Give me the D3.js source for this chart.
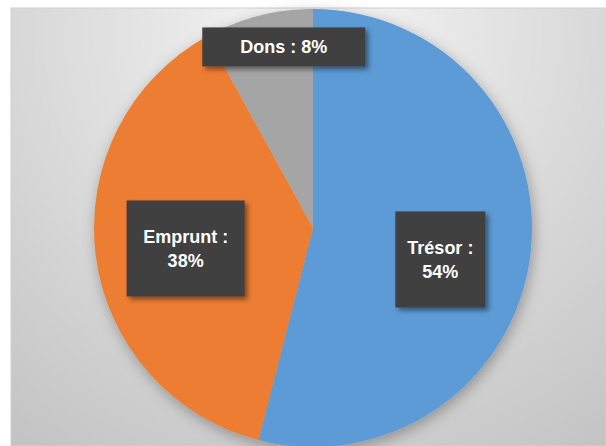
<!DOCTYPE html>
<html><head><meta charset="utf-8">
<script src="https://cdn.jsdelivr.net/npm/d3@7"></script>
<style>html,body{margin:0;padding:0;background:#fff;}svg{display:block;}</style>
</head><body>
<svg id="c" width="606" height="446"></svg>
<script>
const categories = ["Trésor", "Emprunt", "Dons"];
const values = [54, 38, 8];
const labels = ["Trésor :|54%", "Emprunt :|38%", "Dons : 8%"];
const colors = ["#5b9bd5", "#ed7d31", "#a5a5a5"];

const W = 606, H = 446;
const svg = d3.select("#c");
const defs = svg.append("defs");

const bg = defs.append("radialGradient").attr("id","bg")
  .attr("gradientUnits","userSpaceOnUse")
  .attr("cx",313).attr("cy",30).attr("r",520);
bg.append("stop").attr("offset","0%").attr("stop-color","#f6f6f6");
bg.append("stop").attr("offset","45%").attr("stop-color","#dedede");
bg.append("stop").attr("offset","100%").attr("stop-color","#c2c2c2");

const sh = defs.append("filter").attr("id","pieShadow").attr("x","-20%").attr("y","-20%").attr("width","140%").attr("height","140%");
sh.append("feDropShadow").attr("dx",2).attr("dy",4).attr("stdDeviation",7).attr("flood-color","#000").attr("flood-opacity",0.3);
const bsh = defs.append("filter").attr("id","boxShadow").attr("x","-20%").attr("y","-20%").attr("width","150%").attr("height","150%");
bsh.append("feDropShadow").attr("dx",3).attr("dy",3).attr("stdDeviation",2.5).attr("flood-color","#000").attr("flood-opacity",0.45);

svg.append("rect").attr("x",11).attr("y",8).attr("width",W-11).attr("height",H-8)
  .attr("fill","url(#bg)").attr("stroke","#d0d0d0").attr("stroke-width",1);

const cx = 313, cy = 228, R = 219;
const pie = d3.pie().sort(null).value(d => d)(values);
const arc = d3.arc().innerRadius(0).outerRadius(R);
const g = svg.append("g").attr("transform",`translate(${cx},${cy})`);
g.append("g").attr("filter","url(#pieShadow)")
  .selectAll("path").data(pie).join("path")
  .attr("d", arc).attr("fill",(d,i)=>colors[i]);

// label layout: radius factor, extra offsets, box size
const layout = [
  {rf:0.6, dx:-3, dy:15, w:90, h:96},
  {rf:0.6, dx:3, dy:4, w:118, h:96},
  {rf:0.83, dx:16, dy:-5, w:163, h:39}
];
pie.forEach((d,i) => {
  const a = (d.startAngle + d.endAngle)/2;
  const L = layout[i];
  const x = Math.sin(a)*R*L.rf + L.dx, y = -Math.cos(a)*R*L.rf + L.dy;
  const lg = g.append("g").attr("transform",`translate(${x},${y})`);
  lg.append("rect").attr("x",-L.w/2).attr("y",-L.h/2).attr("width",L.w).attr("height",L.h)
    .attr("fill","#404040").attr("filter","url(#boxShadow)");
  const lines = labels[i].split("|");
  const lh = 24;
  const t = lg.append("text").attr("text-anchor","middle")
    .attr("font-family","Liberation Sans, Arial, sans-serif").attr("font-weight","bold")
    .attr("font-size",18).attr("fill","#fff");
  lines.forEach((s,j) => {
    t.append("tspan").attr("x",0).attr("y", (j - (lines.length-1)/2)*lh + 6.5).text(s);
  });
});
</script>
</body></html>
